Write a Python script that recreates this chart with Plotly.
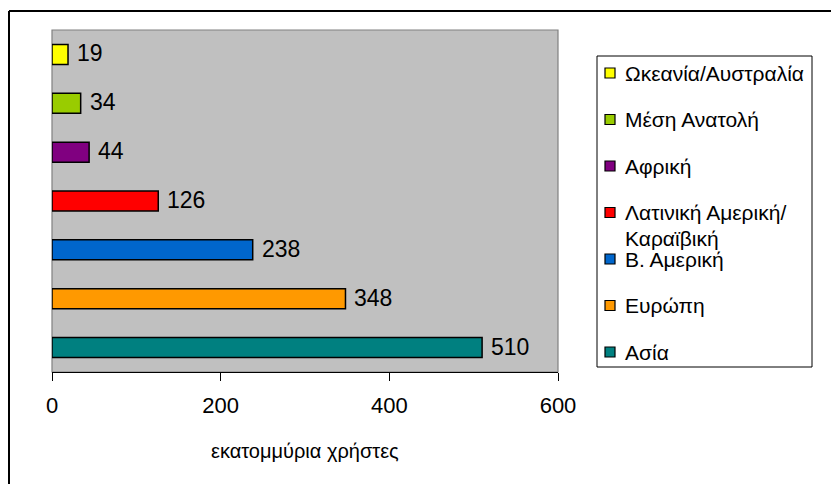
import plotly.graph_objects as go

# Internet users by region (millions)
regions = ["Ωκεανία/Αυστραλία", "Μέση Ανατολή", "Αφρική",
           "Λατινική Αμερική/Καραϊβική", "Β. Αμερική", "Ευρώπη", "Ασία"]
legend_labels = ["Ωκεανία/Αυστραλία", "Μέση Ανατολή", "Αφρική",
                 "Λατινική Αμερική/\nΚαραϊβική", "Β. Αμερική", "Ευρώπη", "Ασία"]
users = [19, 34, 44, 126, 238, 348, 510]
colors = ["#FFFF00", "#99CC00", "#800080", "#FF0000", "#0066CC", "#FF9900", "#008080"]
x_ticks = [0, 200, 400, 600]
x_title = "εκατομμύρια χρήστες"

W, H = 831, 484
L, R, T, B = 52, 558, 30, 372  # plot area in pixels
FONT = "Liberation Sans, Arial, sans-serif"


def px(x):
    return (x - L) / (R - L)


def py(y):
    return (B - y) / (B - T)


fig = go.Figure()
for name, val, col in zip(regions, users, colors):
    fig.add_trace(go.Bar(
        y=[name], x=[val], orientation="h", width=0.41,
        marker=dict(color=col, line=dict(color="black", width=1.5)),
        showlegend=False, hoverinfo="x+y",
    ))

# value labels next to the bar ends
annotations = [
    dict(x=val, y=name, xref="x", yref="y", text=str(val), showarrow=False,
         xanchor="left", yanchor="middle", xshift=7, yshift=1,
         font=dict(family=FONT, size=23, color="black"))
    for name, val in zip(regions, users)
]

# axis title
annotations.append(dict(x=0.5, y=py(451), xref="paper", yref="paper", text=x_title,
                        showarrow=False, xanchor="center", yanchor="middle",
                        font=dict(family=FONT, size=20, color="black")))

shapes = [
    # chart frame (top and left edges)
    dict(type="line", xref="paper", yref="paper", x0=px(9), x1=px(840), y0=py(11), y1=py(11),
         line=dict(color="black", width=2)),
    dict(type="line", xref="paper", yref="paper", x0=px(9), x1=px(9), y0=py(11), y1=py(495),
         line=dict(color="black", width=2)),
    # plot area border
    dict(type="rect", xref="paper", yref="paper", x0=0, x1=1, y0=0, y1=1,
         line=dict(color="#808080", width=1.2), layer="below"),
    # legend box
    dict(type="rect", xref="paper", yref="paper", x0=px(597), x1=px(812), y0=py(367), y1=py(56),
         line=dict(color="black", width=1), fillcolor="white"),
]

# legend entries
step = 46.5
for i, (lab, col) in enumerate(zip(legend_labels, colors)):
    yc = 73 + i * step
    shapes.append(dict(type="rect", xref="paper", yref="paper",
                       x0=px(605), x1=px(615), y0=py(yc + 5), y1=py(yc - 5),
                       fillcolor=col, line=dict(color="black", width=1.2)))
    for j, line in enumerate(lab.split("\n")):
        annotations.append(dict(x=px(623), y=py(yc + j * 26), xref="paper", yref="paper",
                                text=line, showarrow=False, xanchor="left", yanchor="middle",
                                font=dict(family=FONT, size=21, color="black")))

fig.update_layout(
    width=W, height=H,
    margin=dict(l=L, r=W - R, t=T, b=H - B, pad=0),
    paper_bgcolor="white", plot_bgcolor="#C0C0C0",
    barmode="overlay",
    xaxis=dict(range=[0, 600], tickvals=x_ticks, ticks="outside", ticklen=8,
               tickcolor="black", tickwidth=1, showline=True, linecolor="black",
               linewidth=1, showgrid=False, zeroline=False, ticklabelstandoff=6,
               tickfont=dict(family=FONT, size=22, color="black")),
    yaxis=dict(type="category", categoryorder="array", categoryarray=regions,
               range=[6.5, -0.5], showticklabels=False, ticks="", showgrid=False,
               zeroline=False, showline=False),
    annotations=annotations, shapes=shapes,
    showlegend=False,
)

fig.write_html("out.html")
